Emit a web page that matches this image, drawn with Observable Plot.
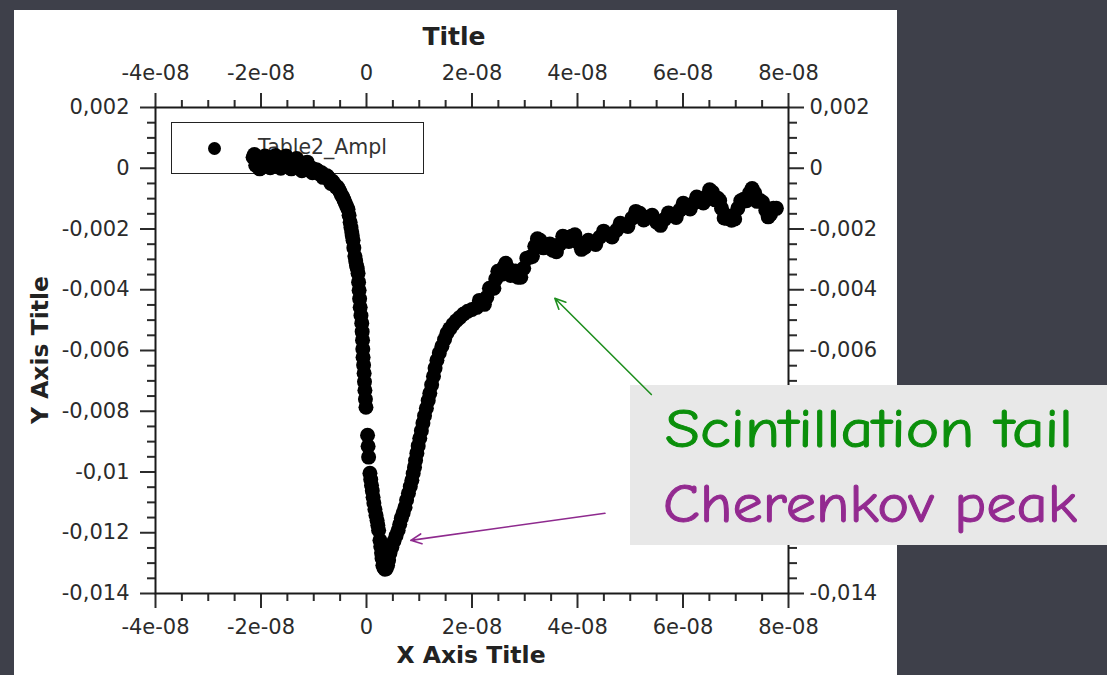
<!DOCTYPE html>
<html>
<head>
<meta charset="utf-8">
<script src="https://cdn.jsdelivr.net/npm/d3@7"></script>
<script src="https://cdn.jsdelivr.net/npm/@observablehq/plot@0.6"></script>
<style>
html,body{margin:0;padding:0;}
body{width:1107px;height:675px;overflow:hidden;background:#3e404a;position:relative;font-family:"DejaVu Sans",sans-serif;}
#panel{position:absolute;left:14px;top:10px;width:883px;height:680px;background:#ffffff;}
#legend{position:absolute;left:171px;top:122px;width:253px;height:52px;border:1.5px solid #222;box-sizing:border-box;background:#fff;}
#legend .dot{position:absolute;left:36px;top:19px;width:13px;height:13px;border-radius:50%;background:#000;}
#legend .lbl{position:absolute;left:86px;top:10px;font-size:20.5px;color:#333;font-family:"DejaVu Sans",sans-serif;line-height:28px;}
.layer{position:absolute;left:0;top:0;}
</style>
</head>
<body>
<div id="panel"></div>
<div id="legend"><div class="dot"></div><div class="lbl">Table2_Ampl</div></div>
<div id="plot" class="layer"></div>
<svg id="titles" class="layer" width="1107" height="675" style="font-family:'DejaVu Sans',sans-serif;">
  <text x="454" y="45" text-anchor="middle" font-weight="bold" font-size="25" fill="#222">Title</text>
  <text x="471" y="663" text-anchor="middle" font-weight="bold" font-size="23.5" fill="#222">X Axis Title</text>
  <text transform="translate(48,350) rotate(-90)" text-anchor="middle" font-weight="bold" font-size="23.5" fill="#222">Y Axis Title</text>
</svg>
<svg id="note" class="layer" width="1107" height="675">
  <rect x="630" y="385" width="477" height="160" fill="#e8e8e8"></rect>
  <text x="665" y="447" font-size="54" fill="#0b8f0b" stroke="#0b8f0b" stroke-width="1" textLength="408" lengthAdjust="spacingAndGlyphs" style="font-family:'Comic Sans MS','Comic Neue','Open Sans',sans-serif;">Scintillation tail</text>
  <text x="663" y="522" font-size="54" fill="#932a90" stroke="#932a90" stroke-width="1" textLength="414" lengthAdjust="spacingAndGlyphs" style="font-family:'Comic Sans MS','Comic Neue','Open Sans',sans-serif;">Cherenkov peak</text>
</svg>
<div id="arrows" class="layer"></div>
<script>
// ---- data (time in ns, amplitude in units of 1e-3) ----
const timeNs = [
  -21.5,-21.0,-20.5,-20.0,-19.5,-19.0,-18.5,-18.0,-17.5,-17.0,-16.5,-16.0,-15.5,-15.0,-14.5,-14.0,
  -13.5,-13.0,-12.5,-12.0,-11.5,-11.0,-10.5,-10.0,-9.5,-9.0,-8.5,-8.0,-7.5,-7.0,-6.5,-6.0,-5.5,-5.0,-4.5,-4.0,
  -3.5,-3.1,-2.8,-2.55,-2.2,-1.9,-1.6,-1.4,-1.2,-0.9,-0.75,-0.65,-0.45,-0.3,-0.1,
  0.2,0.3,0.4,0.65,0.95,1.25,1.6,2.0,2.3,2.55,2.85,3.1,3.5,4.0,4.45,5.2,6.0,6.6,7.3,7.95,8.6,9.1,9.55,
  10.1,10.7,11.35,12.0,12.7,13.35,14.3,15.25,16.4,17.7,19.2,20.9,21.9,22.8,23.8,24.5,25.3,26.0,26.8,
  27.75,28.7,29.8,31.0,31.9,32.9,34.2,35.3,36.65,37.8,38.9,40.1,41.4,42.7,44.2,45.7,47.4,48.8,50.3,
  51.8,53.3,55.0,56.5,58.0,59.4,60.7,62.0,63.2,64.5,65.6,66.6,67.3,68.3,69.2,70.4,71.5,72.6,73.6,
  74.5,75.7,76.6,77.7,
  // extra samples filling the band
  -21.25,-20.25,-19.25,-18.25,-17.25,-16.25,-15.25,-14.25,-13.25,-12.25,-11.25,-10.25,-9.25,-8.25,-7.25,-6.75,-6.25,-5.75,-5.25,-4.75,-4.25,-3.75,
  -3.3,-2.95,-2.7,-2.4,-2.05,-1.75,-1.5,-1.3,-1.05,-0.82,-0.7,-0.55,-0.38,-0.2,
  0.8,1.1,1.4,1.8,2.15,2.7,2.95,3.3,3.75,
  4.2,4.8,5.6,6.3,6.95,7.6,8.3,8.85,9.3,9.8,10.4,11.0,11.7,12.35,13.0,13.8,14.8,15.8,17.0,18.4,20.0,
  21.4,22.35,23.3,24.15,24.9,25.65,26.4,27.3,28.2,29.25,30.4,31.45,32.4,33.55,34.75,36.0,37.2,38.35,39.5,40.75,
  42.05,43.45,44.95,46.55,48.1,49.55,51.05,52.55,54.15,55.75,57.25,58.7,60.05,61.35,62.6,63.85,65.05,66.1,66.95,67.8,
  68.75,69.8,70.95,72.05,73.1,74.05,75.1,76.15,77.15
];
const amplMilli = [
  0.36,0.10,0.30,0.05,0.25,0.12,0.35,0.15,0.28,0.08,0.30,0.18,0.33,0.12,0.25,0.10,
  0.22,0.05,0.15,0.02,0.10,-0.05,0.02,-0.10,-0.05,-0.18,-0.15,-0.28,-0.25,-0.40,-0.42,-0.55,-0.62,-0.78,-0.95,-1.15,
  -1.35,-1.78,-2.10,-2.37,-2.90,-3.20,-3.46,-4.02,-4.58,-5.10,-5.66,-6.22,-6.75,-7.31,-7.87,
  -8.79,-9.15,-9.51,-10.04,-10.44,-10.83,-11.23,-11.59,-11.92,-12.25,-12.67,-13.07,-13.20,-13.07,-12.67,-12.28,-11.92,-11.52,-11.16,-10.70,-10.27,-9.84,-9.38,
  -8.89,-8.39,-7.90,-7.41,-6.85,-6.32,-5.86,-5.43,-5.14,-4.91,-4.71,-4.58,-4.41,-4.25,-3.95,-3.65,-3.42,-3.26,-3.29,
  -3.46,-3.59,-3.29,-2.93,-2.57,-2.37,-2.57,-2.70,-2.50,-2.27,-2.24,-2.44,-2.60,-2.44,-2.27,-2.17,-2.04,-1.88,-1.65,
  -1.48,-1.61,-1.78,-1.68,-1.55,-1.38,-1.22,-1.15,-1.05,-0.92,-0.79,-0.99,-1.32,-1.65,-1.71,-1.32,-1.02,-0.82,-0.82,
  -1.05,-1.38,-1.51,-1.32,
  // extra samples filling the band
  0.45,-0.02,0.40,0.02,0.42,0.00,0.40,-0.02,0.32,-0.08,0.20,-0.15,-0.08,-0.30,-0.30,-0.50,-0.48,-0.62,-0.70,-0.88,-1.05,-1.25,
  -1.55,-1.95,-2.22,-2.62,-3.05,-3.30,-3.75,-4.30,-4.85,-5.38,-5.95,-6.48,-7.03,-7.60,
  -10.25,-10.62,-11.02,-11.42,-11.75,-12.45,-12.85,-13.15,-13.18,
  -12.90,-12.48,-12.10,-11.72,-11.35,-10.92,-10.48,-10.05,-9.62,-9.14,-8.64,-8.15,-7.65,-7.13,-6.58,-6.08,-5.64,-5.28,-5.02,-4.80,-4.65,
  -4.35,-4.48,-3.95,-3.95,-3.39,-3.49,-3.13,-3.53,-3.38,-3.59,-2.96,-2.90,-2.32,-2.62,-2.49,-2.75,-2.24,-2.41,-2.19,-2.67,
  -2.37,-2.51,-2.07,-2.26,-1.81,-1.92,-1.42,-1.70,-1.55,-1.88,-1.47,-1.62,-1.15,-1.34,-0.95,-1.14,-0.71,-1.04,-1.06,-1.64,
  -1.58,-1.67,-1.07,-1.07,-0.67,-1.09,-1.12,-1.60,-1.32
];
const xTicks = [-4e-8, -2e-8, 0, 2e-8, 4e-8, 6e-8, 8e-8];
const xTickLabels = ["-4e-08", "-2e-08", "0", "2e-08", "4e-08", "6e-08", "8e-08"];
const xMinorTicks = [-3.5e-8,-3e-8,-2.5e-8,-1.5e-8,-1e-8,-0.5e-8,0.5e-8,1e-8,1.5e-8,2.5e-8,3e-8,3.5e-8,4.5e-8,5e-8,5.5e-8,6.5e-8,7e-8,7.5e-8];
const yTicks = [0.002, 0, -0.002, -0.004, -0.006, -0.008, -0.01, -0.012, -0.014];
const yTickLabels = ["0,002", "0", "-0,002", "-0,004", "-0,006", "-0,008", "-0,01", "-0,012", "-0,014"];
// right-hand labels: the three middle ones are hidden behind the annotation box
const yRightTickLabels = ["0,002", "0", "-0,002", "-0,004", "-0,006", "", "", "", "-0,014"];
const yMinorTicks = [0.0015,0.001,0.0005,-0.0005,-0.001,-0.0015,-0.0025,-0.003,-0.0035,-0.0045,-0.005,-0.0055,-0.0065,-0.007,-0.0075,-0.0085,-0.009,-0.0095,-0.0105,-0.011,-0.0115,-0.0125,-0.013,-0.0135];
// annotation arrows (data units: ns, 1e-3)
const arrowNames = ["Scintillation tail", "Cherenkov peak"];
const arrowFromNs = [54.0, 45.2];
const arrowFromMilli = [-7.45, -11.36];
const arrowToNs = [35.7, 8.4];
const arrowToMilli = [-4.28, -12.25];
const arrowColors = ["#1f8f1f", "#8e2a8e"];

const n = Math.min(timeNs.length, amplMilli.length);
const points = timeNs.slice(0, n).map((t, i) => ({x: t * 1e-9, y: amplMilli[i] * 1e-3}));
const arrows = arrowNames.map((nm, i) => ({
  name: nm, x1: arrowFromNs[i] * 1e-9, y1: arrowFromMilli[i] * 1e-3,
  x2: arrowToNs[i] * 1e-9, y2: arrowToMilli[i] * 1e-3, c: arrowColors[i]
}));

const W = 1107, H = 675;
const common = {
  width: W, height: H,
  marginLeft: 155, marginRight: 319, marginTop: 107, marginBottom: 82,
  x: {domain: [-4e-8, 8e-8]},
  y: {domain: [-0.014, 0.002]},
  style: {background: "transparent", fontFamily: "DejaVu Sans, sans-serif", fontSize: "21px", color: "#2b2b2b", overflow: "visible"}
};
const fx = d => xTickLabels[xTicks.indexOf(d)];
const fy = d => yTickLabels[yTicks.indexOf(d)];
const fyr = d => yRightTickLabels[yTicks.indexOf(d)];
const blank = () => "";
const ax = {strokeWidth: 2, label: null};

const chart = Plot.plot({
  ...common,
  marks: [
    Plot.axisX(xTicks, {...ax, anchor: "bottom", tickSize: 15, tickPadding: 11, tickFormat: fx}),
    Plot.axisX(xMinorTicks, {...ax, anchor: "bottom", tickSize: 8, tickFormat: blank}),
    Plot.axisX(xTicks, {...ax, anchor: "top", tickSize: 15, tickPadding: 13, tickFormat: fx}),
    Plot.axisX(xMinorTicks, {...ax, anchor: "top", tickSize: 8, tickFormat: blank}),
    Plot.axisY(yTicks, {...ax, anchor: "left", tickSize: 15, tickPadding: 11, tickFormat: fy}),
    Plot.axisY(yMinorTicks, {...ax, anchor: "left", tickSize: 8, tickFormat: blank}),
    Plot.axisY(yTicks, {...ax, anchor: "right", tickSize: 15, tickPadding: 6, tickFormat: fyr}),
    Plot.axisY(yMinorTicks, {...ax, anchor: "right", tickSize: 8, tickFormat: blank}),
    Plot.frame({stroke: "#1a1a1a", strokeWidth: 2}),
    Plot.dot(points, {x: "x", y: "y", r: 7.5, fill: "#000", stroke: "none"})
  ]
});
document.getElementById("plot").appendChild(chart);

const arrowLayer = Plot.plot({
  ...common,
  x: {...common.x, axis: null},
  y: {...common.y, axis: null},
  marks: [
    Plot.arrow(arrows, {x1: "x1", y1: "y1", x2: "x2", y2: "y2", stroke: "c", strokeWidth: 1.6, headLength: 11, headAngle: 50})
  ]
});
document.getElementById("arrows").appendChild(arrowLayer);
</script>
</body>
</html>
